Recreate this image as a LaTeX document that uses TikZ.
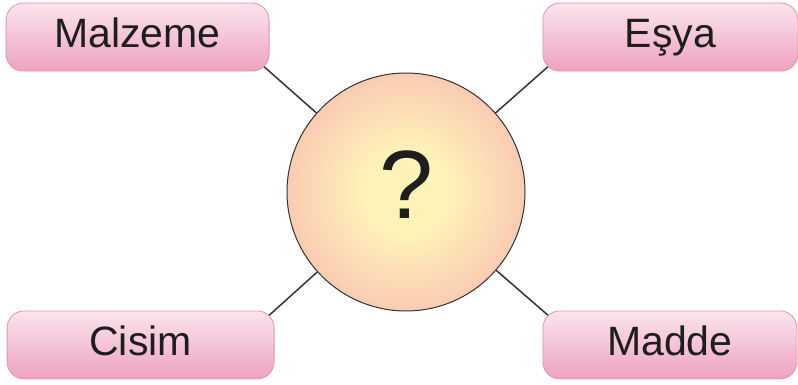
\documentclass[tikz,border=0pt]{standalone}
\usepackage{fontspec}
\setmainfont{Liberation Sans}
\usepackage{tikz}
\usetikzlibrary{shapes}
\usetikzlibrary{positioning}
\usetikzlibrary{backgrounds}
\definecolor{termTop}{RGB}{251,228,238}
\definecolor{termMid}{RGB}{245,190,211}
\definecolor{termBot}{RGB}{238,162,192}
\definecolor{termBorder}{RGB}{228,146,180}
\definecolor{qInner}{RGB}{255,242,184}
\definecolor{qOuter}{RGB}{249,196,178}
\definecolor{inkText}{RGB}{30,30,30}
\pgfdeclareradialshading{qglow}{\pgfpoint{0bp}{0bp}}{color(0bp)=(qInner);
        color(9bp)=(qInner); color(28bp)=(qOuter); color(50bp)=(qOuter)}
\tikzstyle{term} = [rectangle, rounded corners=17pt, draw=termBorder, line width=0.8pt,
        top color=termTop, middle color=termMid, bottom color=termBot,
        minimum width=263pt, minimum height=68pt, text=inkText,
        font={\fontsize{41}{49}\selectfont}, text height=30pt, text depth=9pt]
\tikzstyle{question} = [circle, draw=black!80, line width=1pt,
        shading=qglow, minimum size=238pt, text=inkText,
        font={\fontsize{97}{110}\selectfont}, text height=71pt, text depth=19pt]
\tikzstyle{link} = [draw=black!80, line width=1.5pt, shorten >=-9pt]

\begin{document}
\begin{tikzpicture}[x=1pt, y=-1pt]
            \useasboundingbox (0,0) rectangle (798,385);
            \node [question] (q) at (406,192) {?};
            \node [term, above left=36pt and 52pt of q] (malzeme) {Malzeme};
            \node [term, minimum width=255pt, above right=36pt and 52pt of q] (esya) {Eşya};
            \node [term, minimum width=267pt, below left=34pt and 47pt of q] (cisim) {Cisim};
            \node [term, minimum width=254pt, below right=34pt and 52pt of q] (madde) {Madde};
            \begin{pgfonlayer}{background}
                \draw [link] (q) -- (malzeme.south east);
                \draw [link] (q) -- (esya.south west);
                \draw [link] (q) -- (cisim.north east);
                \draw [link] (q) -- (madde.north west);
            \end{pgfonlayer}
        \end{tikzpicture}
\end{document}
